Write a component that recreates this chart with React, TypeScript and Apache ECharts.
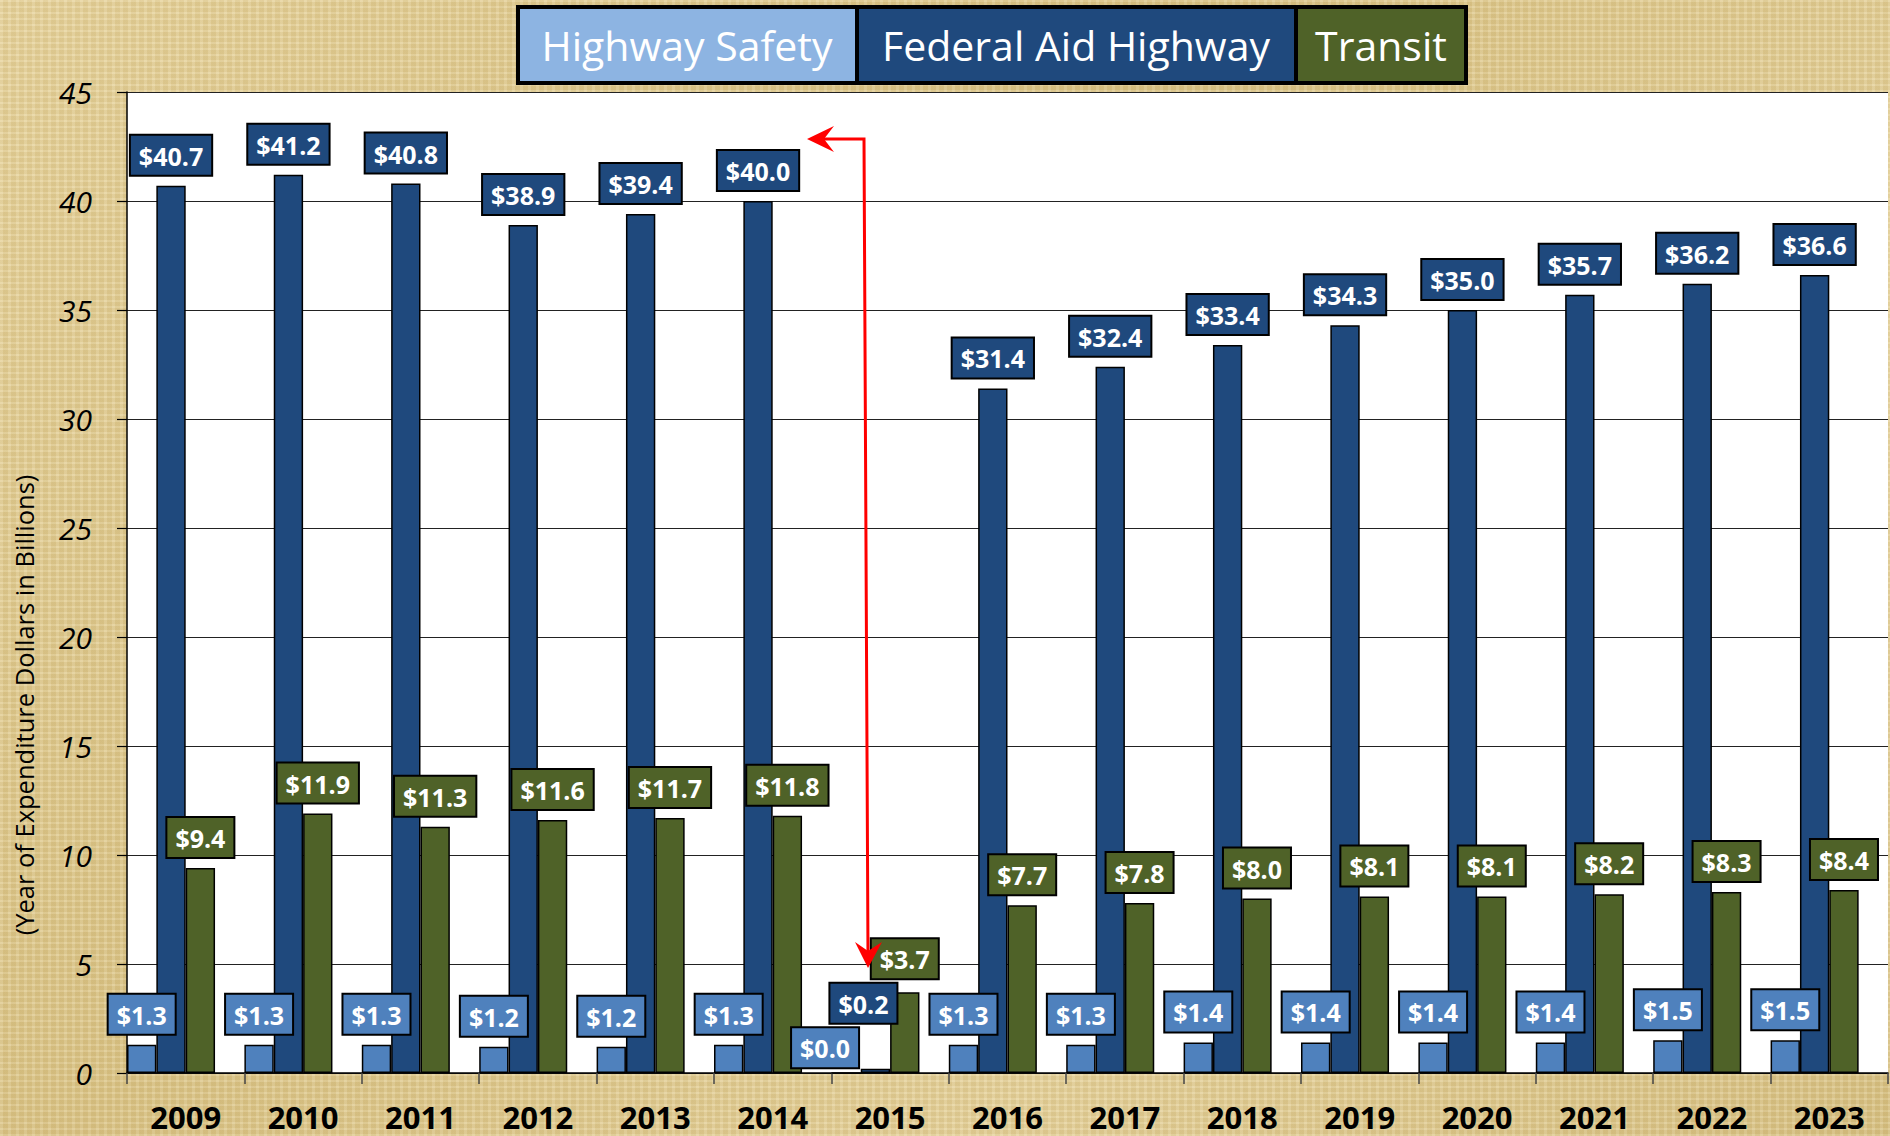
import React, { useEffect, useRef } from "react";
import * as echarts from "echarts";

const years = ["2009", "2010", "2011", "2012", "2013", "2014", "2015", "2016", "2017", "2018", "2019", "2020", "2021", "2022", "2023"];
const highwaySafety = [1.3, 1.3, 1.3, 1.2, 1.2, 1.3, 0.0, 1.3, 1.3, 1.4, 1.4, 1.4, 1.4, 1.5, 1.5];
const federalAidHighway = [40.7, 41.2, 40.8, 38.9, 39.4, 40.0, 0.2, 31.4, 32.4, 33.4, 34.3, 35.0, 35.7, 36.2, 36.6];
const transit = [9.4, 11.9, 11.3, 11.6, 11.7, 11.8, 3.7, 7.7, 7.8, 8.0, 8.1, 8.1, 8.2, 8.3, 8.4];
const yTicks = [0, 5, 10, 15, 20, 25, 30, 35, 40, 45];
const seriesNames = ["Highway Safety", "Federal Aid Highway", "Transit"];

const C_LIGHT = "#4F81BD";
const C_LEGEND_LIGHT = "#8DB4E2";
const C_NAVY = "#1F497D";
const C_GREEN = "#4F6228";
const FONT = "'Open Sans', 'Noto Sans', sans-serif";

// label nudges for the crowded 2015 group (layout only)
const labelNudges: Record<string, Record<string, number[]>> = {
  "Highway Safety": { "2015": [-21, 6] },
  "Federal Aid Highway": { "2015": [-12, -35] },
  Transit: { "2015": [0, -3] },
};

function buildData(name: string, values: number[]) {
  return values.map((v, i) => {
    const n = labelNudges[name] && labelNudges[name][years[i]];
    if (n) return { value: v, label: { offset: n } };
    return v;
  });
}

function labelStyle(color: string) {
  return {
    show: true,
    position: "top",
    distance: 11,
    formatter: (p: any) => "$" + Number(p.value).toFixed(1),
    color: "#fff",
    fontFamily: FONT,
    fontWeight: "bold",
    fontSize: 25,
    lineHeight: 32,
    backgroundColor: color,
    borderColor: "#000",
    borderWidth: 2,
    padding: [4, 8, 3, 8],
  };
}

export default function App() {
  const ref = useRef<HTMLDivElement>(null);
  useEffect(() => {
    if (!ref.current) return;
    const chart = echarts.init(ref.current, undefined, { renderer: "svg" });
    const legendY = 5;
    const option: any = {
      animation: false,
      backgroundColor: "transparent",
      grid: {
        left: 127,
        right: 2,
        top: 92,
        bottom: 63,
        show: true,
        backgroundColor: "#ffffff",
        borderWidth: 0,
      },
      xAxis: {
        type: "category",
        data: years,
        boundaryGap: true,
        axisLine: { show: true, lineStyle: { color: "#000", width: 1.5 } },
        axisTick: { show: true, length: 11, lineStyle: { color: "#444", width: 1.5 } },
        axisLabel: {
          color: "#000",
          fontFamily: FONT,
          fontWeight: "bold",
          fontSize: 31,
          margin: 28,
        },
      },
      yAxis: {
        type: "value",
        min: yTicks[0],
        max: yTicks[yTicks.length - 1],
        interval: 5,
        axisLine: { show: true, lineStyle: { color: "#000", width: 1.5 } },
        axisTick: { show: true, length: 10, lineStyle: { color: "#000", width: 1.2 } },
        axisLabel: {
          color: "#000",
          fontFamily: FONT,
          fontStyle: "italic",
          fontSize: 30,
          margin: 35,
        },
        splitLine: { show: true, lineStyle: { color: "#222", width: 1 } },
      },
      series: [
        {
          name: seriesNames[0],
          type: "bar",
          barGap: "0%",
          barCategoryGap: "0%",
          data: buildData(seriesNames[0], highwaySafety),
          itemStyle: { color: C_LIGHT, borderColor: "#000", borderWidth: 1.5 },
          label: labelStyle(C_LIGHT),
        },
        {
          name: seriesNames[1],
          type: "bar",
          barGap: "0%",
          barCategoryGap: "0%",
          data: buildData(seriesNames[1], federalAidHighway),
          itemStyle: { color: C_NAVY, borderColor: "#000", borderWidth: 1.5 },
          label: labelStyle(C_NAVY),
        },
        {
          name: seriesNames[2],
          type: "bar",
          barGap: "0%",
          barCategoryGap: "0%",
          data: buildData(seriesNames[2], transit),
          itemStyle: { color: C_GREEN, borderColor: "#000", borderWidth: 1.5 },
          label: labelStyle(C_GREEN),
        },
        {
          name: "spacer",
          type: "bar",
          barGap: "0%",
          barCategoryGap: "0%",
          silent: true,
          data: years.map(() => 0),
          itemStyle: { color: "transparent", borderWidth: 0 },
          label: { show: false },
        },
      ],
      graphic: [
        // y-axis title
        {
          type: "text",
          x: 24,
          y: 705,
          rotation: Math.PI / 2,
          style: {
            text: "(Year of Expenditure Dollars in Billions)",
            fill: "#000",
            font: "25.5px " + FONT,
            align: "center",
            verticalAlign: "middle",
          },
        },
        // legend
        {
          type: "rect",
          shape: { x: 516, y: legendY, width: 952, height: 80 },
          style: { fill: "#000" },
          z: 10,
        },
        {
          type: "rect",
          shape: { x: 520, y: legendY + 4, width: 335, height: 72 },
          style: { fill: C_LEGEND_LIGHT },
          z: 11,
        },
        {
          type: "rect",
          shape: { x: 859, y: legendY + 4, width: 435, height: 72 },
          style: { fill: C_NAVY },
          z: 11,
        },
        {
          type: "rect",
          shape: { x: 1298, y: legendY + 4, width: 166, height: 72 },
          style: { fill: C_GREEN },
          z: 11,
        },
        {
          type: "text",
          x: 687,
          y: legendY + 40,
          z: 12,
          style: { text: seriesNames[0], fill: "#fff", font: "41px " + FONT, align: "center", verticalAlign: "middle" },
        },
        {
          type: "text",
          x: 1076,
          y: legendY + 40,
          z: 12,
          style: { text: seriesNames[1], fill: "#fff", font: "41px " + FONT, align: "center", verticalAlign: "middle" },
        },
        {
          type: "text",
          x: 1381,
          y: legendY + 40,
          z: 12,
          style: { text: seriesNames[2], fill: "#fff", font: "41px " + FONT, align: "center", verticalAlign: "middle" },
        },
        // red arrow annotation
        {
          type: "polyline",
          z: 50,
          shape: { points: [[820, 139], [864, 139], [868, 955]] },
          style: { stroke: "#FF0000", lineWidth: 3, fill: null },
        },
        {
          type: "polygon",
          z: 51,
          shape: { points: [[807, 139], [834, 126], [824, 139], [834, 152]] },
          style: { fill: "#FF0000" },
        },
        {
          type: "polygon",
          z: 51,
          shape: { points: [[868, 968], [855, 942], [868, 951], [882, 942]] },
          style: { fill: "#FF0000" },
        },
      ],
    };
    chart.setOption(option);
    return () => chart.dispose();
  }, []);

  return (
    <div
      style={{
        position: "absolute",
        left: 0,
        top: 0,
        width: 1890,
        height: 1136,
        background:
          "repeating-linear-gradient(0deg, rgba(255,255,255,0.10) 0px, rgba(255,255,255,0.10) 2px, rgba(120,90,30,0.05) 2px, rgba(120,90,30,0.05) 6px), repeating-linear-gradient(90deg, rgba(255,255,255,0.10) 0px, rgba(255,255,255,0.10) 3px, rgba(120,90,30,0.05) 3px, rgba(120,90,30,0.05) 8px), linear-gradient(135deg, #e8d49c 0%, #dcc586 40%, #e6d29a 70%, #d9c283 100%)",
      }}
    >
      <div ref={ref} style={{ width: 1890, height: 1136 }} />
    </div>
  );
}
